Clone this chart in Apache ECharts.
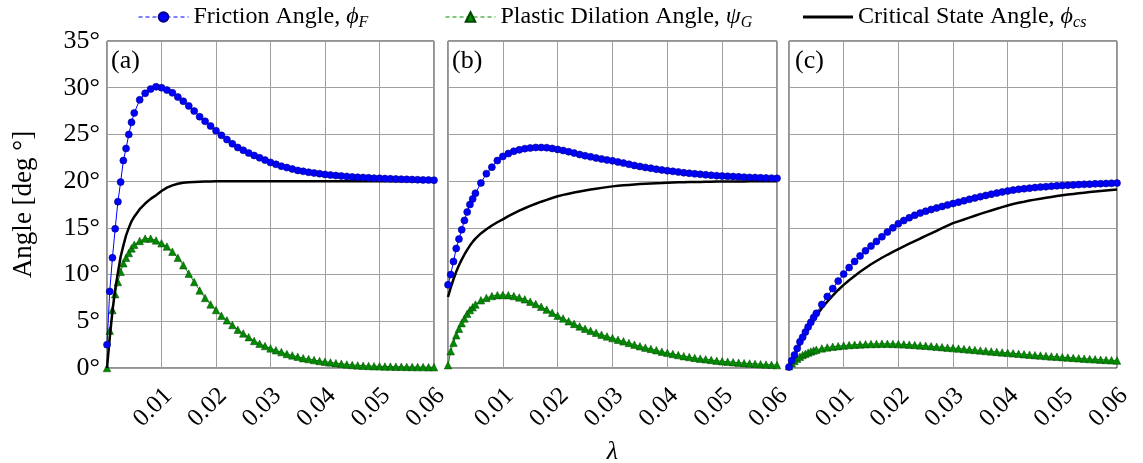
<!DOCTYPE html>
<html><head><meta charset="utf-8">
<script src="https://cdn.jsdelivr.net/npm/echarts@6/dist/echarts.min.js"></script>
<style>html,body{margin:0;padding:0;background:#fff}#c{width:1143px;height:463px}</style>
</head><body><div id="c"></div>
<script>
// lambda values (x) shared by all series
const lambda = [0,0.0005,0.001,0.0015,0.002,0.0025,0.003,0.0035,0.004,0.0045,0.005,
  0.006,0.007,0.008,0.009,0.010,
  0.011,0.012,0.013,0.014,0.015,0.016,0.017,0.018,0.019,0.020,
  0.021,0.022,0.023,0.024,0.025,0.026,0.027,0.028,0.029,0.030,
  0.031,0.032,0.033,0.034,0.035,0.036,0.037,0.038,0.039,0.040,
  0.041,0.042,0.043,0.044,0.045,0.046,0.047,0.048,0.049,0.050,
  0.051,0.052,0.053,0.054,0.055,0.056,0.057,0.058,0.059,0.060];

// Panel (a)
const phiF_a = [2.5,8.2,11.8,14.9,17.8,19.9,22.2,23.5,25.0,26.3,27.3,
  28.7,29.4,29.85,30.1,30.0,
  29.75,29.45,29.0,28.55,28.05,27.5,26.9,26.4,25.9,25.4,
  24.9,24.45,24.0,23.6,23.3,23.0,22.75,22.5,22.25,22.0,
  21.8,21.6,21.45,21.3,21.15,21.05,20.95,20.87,20.8,20.72,
  20.65,20.6,20.55,20.5,20.45,20.41,20.38,20.35,20.32,20.3,
  20.27,20.25,20.23,20.21,20.19,20.17,20.15,20.13,20.12,20.1];
const psiG_a = [0,4.0,6.2,7.9,9.2,10.3,11.2,11.8,12.3,12.8,13.2,
  13.6,13.85,13.85,13.65,13.35,
  13.0,12.45,11.8,11.0,10.1,9.2,8.3,7.5,6.8,6.2,
  5.6,5.1,4.6,4.1,3.7,3.3,2.9,2.6,2.35,2.1,
  1.9,1.7,1.5,1.35,1.2,1.05,0.95,0.85,0.75,0.68,
  0.6,0.52,0.45,0.38,0.32,0.28,0.25,0.22,0.2,0.18,
  0.16,0.15,0.14,0.13,0.12,0.11,0.1,0.1,0.09,0.09];
const phiCS_a = [0,3.2,6.1,8.4,10.2,11.9,13.1,14.2,15.0,15.7,16.2,
  17.0,17.6,18.1,18.5,18.95,
  19.3,19.55,19.72,19.82,19.88,19.92,19.94,19.96,19.97,19.98,
  19.98,19.99,19.99,19.99,20,20,20,20,20,20,
  20,20,20,20,20,20,20,20,20,20,
  20,20,20,20,20,20,20,20,20,20,
  20,20,20,20,20,20,20,20,20,20];

// Panel (b)
const phiF_b = [8.9,10.0,11.4,12.8,13.8,14.8,15.8,16.7,17.5,18.1,18.7,
  19.8,20.8,21.5,22.2,22.65,
  22.95,23.2,23.35,23.48,23.55,23.6,23.6,23.58,23.5,23.4,
  23.28,23.15,23.0,22.85,22.72,22.6,22.48,22.37,22.27,22.17,
  22.05,21.93,21.8,21.68,21.57,21.47,21.38,21.28,21.2,21.12,
  21.05,20.98,20.9,20.84,20.78,20.73,20.68,20.63,20.59,20.55,
  20.52,20.49,20.46,20.43,20.4,20.38,20.36,20.34,20.32,20.3];
const psiG_b = [0.3,1.8,2.7,3.5,4.2,4.8,5.3,5.8,6.2,6.5,6.8,
  7.25,7.5,7.7,7.8,7.82,
  7.8,7.7,7.55,7.35,7.1,6.85,6.55,6.25,5.92,5.6,
  5.3,5.0,4.72,4.45,4.2,3.98,3.77,3.56,3.38,3.2,
  3.02,2.85,2.68,2.5,2.33,2.18,2.04,1.9,1.75,1.62,
  1.5,1.38,1.27,1.17,1.08,1.0,0.93,0.86,0.78,0.72,
  0.67,0.62,0.57,0.52,0.48,0.44,0.4,0.37,0.34,0.31];
const phiCS_b = [7.6,8.6,9.5,10.3,11.0,11.6,12.15,12.65,13.1,13.5,13.85,
  14.4,14.85,15.25,15.6,15.9,
  16.25,16.55,16.85,17.1,17.35,17.58,17.8,18.0,18.2,18.38,
  18.53,18.66,18.78,18.9,19.0,19.1,19.19,19.28,19.36,19.44,
  19.5,19.55,19.6,19.65,19.69,19.72,19.75,19.78,19.8,19.83,
  19.85,19.87,19.88,19.9,19.91,19.92,19.93,19.94,19.95,19.95,
  19.96,19.96,19.97,19.97,19.98,19.98,19.98,19.99,19.99,20.0];

// Panel (c)
const phiF_c = [0.1,0.8,1.4,2.1,2.8,3.3,3.85,4.4,4.9,5.4,5.85,
  6.8,7.65,8.5,9.3,10.05,
  10.75,11.4,12.0,12.55,13.05,13.55,14.05,14.55,15.0,15.45,
  15.78,16.08,16.35,16.58,16.78,16.96,17.13,17.29,17.45,17.6,
  17.75,17.9,18.05,18.2,18.34,18.47,18.6,18.72,18.84,18.95,
  19.04,19.12,19.19,19.25,19.31,19.36,19.41,19.46,19.5,19.54,
  19.57,19.6,19.63,19.66,19.68,19.71,19.73,19.75,19.77,19.79];
const psiG_c = [0.2,0.5,0.75,1.0,1.2,1.38,1.52,1.65,1.77,1.87,1.96,
  2.1,2.2,2.28,2.34,2.4,
  2.45,2.49,2.52,2.55,2.57,2.58,2.59,2.59,2.58,2.56,
  2.53,2.5,2.46,2.42,2.38,2.33,2.28,2.23,2.18,2.13,
  2.08,2.03,1.98,1.93,1.88,1.82,1.77,1.72,1.67,1.62,
  1.57,1.52,1.47,1.42,1.37,1.33,1.28,1.24,1.2,1.16,
  1.12,1.08,1.04,1.0,0.96,0.93,0.89,0.86,0.83,0.8];
const phiCS_c = [0,0.7,1.3,1.9,2.5,3.1,3.7,4.2,4.7,5.15,5.6,
  6.4,7.1,7.75,8.35,8.9,
  9.4,9.85,10.3,10.7,11.1,11.45,11.8,12.12,12.42,12.72,
  13.02,13.3,13.58,13.86,14.13,14.4,14.68,14.96,15.23,15.5,
  15.7,15.9,16.1,16.3,16.5,16.68,16.86,17.04,17.22,17.4,
  17.55,17.69,17.8,17.92,18.02,18.12,18.22,18.31,18.4,18.48,
  18.56,18.63,18.7,18.77,18.83,18.89,18.95,19.0,19.05,19.1];

const xTicks = [0.01,0.02,0.03,0.04,0.05,0.06];
const panelLabels = ['(a)','(b)','(c)'];
const seriesNames = {
  phiF: '{t|Friction Angle, }{g|ϕ}{s|F}',
  psiG: '{t|Plastic Dilation Angle, }{g|ψ}{s|G}',
  phiCS: '{t|Critical State Angle, }{g|ϕ}{s|cs}'
};

const FONT = '"Liberation Serif", "DejaVu Serif", serif';
const BLUE = '#0000ff', GREEN = '#008a00', BLACK = '#000000';

const chart = echarts.init(document.getElementById('c'), null, {renderer: 'canvas'});

const grids = [
  {left: 107, right: 709, top: 41, bottom: 95},
  {left: 448, right: 366, top: 41, bottom: 95},
  {left: 789, right: 26, top: 41, bottom: 95}
].map(g => Object.assign(g, {show: true, borderColor: '#262626', borderWidth: 1,
  backgroundColor: '#fff', containLabel: false, outerBoundsMode: 'none'}));

const xAxes = grids.map((g, i) => ({
  type: 'value', gridIndex: i, min: 0, max: 0.06, interval: 0.01,
  axisLine: {show: false}, axisTick: {show: false},
  splitLine: {show: true, lineStyle: {color: '#a0a0a0', width: 1}},
  axisLabel: {
    rotate: 45, margin: 31, padding: [0, -10, 0, 0],
    fontFamily: FONT, fontSize: 25, color: '#000',
    formatter: v => (xTicks.some(t => Math.abs(t - v) < 1e-9) ? v.toFixed(2) : '')
  },
  name: i === 1 ? 'λ' : '', nameLocation: 'middle', nameGap: 66,
  nameTextStyle: {fontFamily: FONT, fontSize: 26, fontStyle: 'italic', color: '#000'}
}));

const yAxes = grids.map((g, i) => ({
  type: 'value', gridIndex: i, min: 0, max: 35, interval: 5,
  axisLine: {show: false}, axisTick: {show: false},
  splitLine: {show: true, lineStyle: {color: '#a0a0a0', width: 1}},
  axisLabel: {show: i === 0, margin: 7, fontFamily: FONT, fontSize: 26, color: '#000',
    formatter: v => v + '°'},
  name: i === 0 ? 'Angle [deg °]' : '', nameLocation: 'middle', nameGap: 70,
  nameTextStyle: {fontFamily: FONT, fontSize: 27, color: '#000'}
}));

function pairs(ys) { return lambda.map((x, k) => [x, ys[k]]); }

const panels = [
  [phiF_a, psiG_a, phiCS_a],
  [phiF_b, psiG_b, phiCS_b],
  [phiF_c, psiG_c, phiCS_c]
];

const series = [];
panels.forEach((p, i) => {
  series.push({
    name: 'psiG', type: 'line', xAxisIndex: i, yAxisIndex: i, data: pairs(p[1]),
    symbol: 'triangle', symbolSize: 7.5, showSymbol: true,
    lineStyle: {color: GREEN, width: 1},
    itemStyle: {color: GREEN, borderColor: '#004400', borderWidth: 0.5},
    z: 2, animation: false
  });
  series.push({
    name: 'phiCS', type: 'line', xAxisIndex: i, yAxisIndex: i, data: pairs(p[2]),
    symbol: 'none', showSymbol: false,
    lineStyle: {color: BLACK, width: 2.5},
    itemStyle: {color: BLACK},
    z: 3, animation: false
  });
  series.push({
    name: 'phiF', type: 'line', xAxisIndex: i, yAxisIndex: i, data: pairs(p[0]),
    symbol: 'circle', symbolSize: 7, showSymbol: true,
    lineStyle: {color: BLUE, width: 1},
    itemStyle: {color: BLUE, borderColor: '#000080', borderWidth: 0.6},
    z: 4, animation: false
  });
});

const legendText = {
  fontFamily: FONT, fontSize: 24, color: '#000',
  rich: {
    t: {fontFamily: FONT, fontSize: 24, color: '#000'},
    g: {fontFamily: FONT, fontSize: 24, fontStyle: 'italic', color: '#000'},
    s: {fontFamily: FONT, fontSize: 16, fontStyle: 'italic', color: '#000', padding: [11, 0, 0, 0]}
  }
};
function mkLegend(name, left, dashed) {
  const o = {
    data: [name], left: left, top: 5, itemWidth: 50, itemHeight: 12, itemGap: 0,
    selectedMode: false, padding: 0,
    formatter: n => seriesNames[n],
    textStyle: legendText,
    lineStyle: dashed ? {type: [4, 3], width: 1} : {width: 2.5}
  };
  if (!dashed) {
    o.data = [{name: name, icon: 'rect'}];
    o.itemHeight = 3;
    o.itemStyle = {color: BLACK};
  }
  return o;
}

chart.setOption({
  animation: false,
  backgroundColor: '#fff',
  grid: grids,
  xAxis: xAxes,
  yAxis: yAxes,
  legend: [mkLegend('phiF', 138, true), mkLegend('psiG', 445, true), mkLegend('phiCS', 803, false)],
  graphic: panelLabels.map((t, i) => ({
    type: 'text', left: [111, 452, 795][i], top: 48,
    style: {text: t, font: '26px ' + FONT, fill: '#000'}
  })),
  series: series
});
</script>
</body></html>
